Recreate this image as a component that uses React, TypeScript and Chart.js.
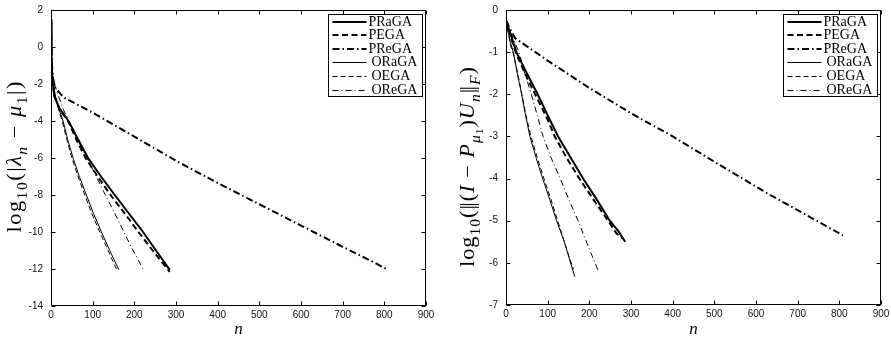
import React, { useEffect, useRef } from 'react';
import { Chart, registerables } from 'chart.js';
Chart.register(...registerables);

// ---------- series names ----------
const seriesNames = ['PRaGA', 'PEGA', 'PReGA', 'ORaGA', 'OEGA', 'OReGA'];

// ---------- left panel: log10(|lambda_n - mu_1|) ----------
const L_PRaGA_n = [0, 1, 3, 8, 20, 42, 65, 89, 120, 153, 187, 221, 252, 285];
const L_PRaGA_v = [1.5, -0.7, -1.6, -2.65, -3.3, -4.0, -5.0, -6.0, -7.0, -8.0, -9.0, -10.0, -11.0, -12.05];
const L_PEGA_n = [0, 1, 3, 8, 20, 41, 61, 83, 112, 143, 177, 210, 244, 276, 285];
const L_PEGA_v = [1.5, -0.7, -1.6, -2.65, -3.35, -4.0, -5.0, -6.0, -7.0, -8.0, -9.0, -10.0, -11.0, -11.9, -12.15];
const L_PReGA_n = [0, 2, 5, 10, 30, 100, 200, 300, 400, 500, 600, 700, 780, 805];
const L_PReGA_v = [1.5, -0.9, -1.7, -2.2, -2.72, -3.55, -4.85, -6.15, -7.35, -8.5, -9.65, -10.8, -11.7, -12.0];
const L_ORaGA_n = [0, 1, 2, 5, 10, 20, 29, 40, 53, 68, 85, 102, 121, 141, 163];
const L_ORaGA_v = [1.5, -0.6, -1.2, -1.9, -2.6, -3.4, -4.0, -5.0, -6.0, -7.0, -8.0, -9.0, -10.0, -11.0, -12.05];
const L_OEGA_n = [0, 1, 2, 5, 10, 20, 27, 38, 50, 65, 81, 98, 117, 137, 158];
const L_OEGA_v = [1.5, -0.6, -1.2, -1.9, -2.7, -3.5, -4.0, -5.0, -6.0, -7.0, -8.0, -9.0, -10.0, -11.0, -12.05];
const L_OReGA_n = [0, 2, 5, 14, 30, 49, 75, 100, 126, 160, 190, 221];
const L_OReGA_v = [1.5, -0.9, -1.8, -2.4, -3.4, -4.3, -5.5, -6.6, -7.8, -9.3, -10.7, -12.0];

// ---------- right panel: log10(||(I - P_mu1) U_n||_F) ----------
const R_PRaGA_n = [0, 10, 25, 50, 76, 100, 125, 155, 185, 218, 249, 270, 286];
const R_PRaGA_v = [-0.25, -0.55, -1.0, -1.5, -2.0, -2.5, -3.0, -3.5, -4.0, -4.5, -5.0, -5.25, -5.5];
const R_PEGA_n = [0, 10, 25, 50, 75, 100, 117, 145, 176, 210, 245, 265, 280];
const R_PEGA_v = [-0.25, -0.6, -1.05, -1.6, -2.1, -2.6, -3.0, -3.5, -4.0, -4.5, -5.0, -5.3, -5.42];
const R_PReGA_n = [0, 10, 22, 100, 200, 300, 400, 500, 634, 700, 809];
const R_PReGA_v = [-0.25, -0.45, -0.67, -1.2, -1.85, -2.45, -3.0, -3.6, -4.39, -4.75, -5.35];
const R_ORaGA_n = [0, 5, 10, 17.5, 27, 37.5, 47, 57.5, 72, 88, 105, 121.5, 140, 155, 165];
const R_ORaGA_v = [-0.25, -0.5, -0.75, -1.0, -1.5, -2.0, -2.5, -3.0, -3.5, -4.0, -4.5, -5.0, -5.5, -6.0, -6.33];
const R_OEGA_n = [0, 5, 10, 18, 28, 38, 48, 60, 75, 91, 108, 124, 140, 153, 162];
const R_OEGA_v = [-0.25, -0.5, -0.8, -1.05, -1.5, -2.0, -2.5, -3.0, -3.5, -4.0, -4.5, -5.0, -5.5, -5.9, -6.15];
const R_OReGA_n = [0, 10, 20, 31, 45, 61, 75, 89, 108, 130, 151, 173, 197, 221];
const R_OReGA_v = [-0.25, -0.5, -0.75, -1.0, -1.5, -2.0, -2.5, -3.0, -3.5, -4.0, -4.5, -5.0, -5.6, -6.18];

// ---------- axis ranges ----------
const xTicks = { min: 0, max: 900, step: 100 };
const leftYTicks = { min: -14, max: 2, step: 2 };
const rightYTicks = { min: -7, max: 0, step: 1 };

// ---------- styles (not data) ----------
const lineStyles = [
  { w: 2, dash: [] as number[] },
  { w: 2, dash: [6, 3.5] },
  { w: 2, dash: [7, 3, 1.5, 3] },
  { w: 1, dash: [] as number[] },
  { w: 1, dash: [5, 3] },
  { w: 1, dash: [6, 3, 1, 3] },
];

// t: text, s: size factor, it: italic, dy: baseline shift (em), tight: no extra spacing, adv: fixed extra advance
type Seg = { t: string; s?: number; it?: boolean; dy?: number; tight?: boolean; adv?: number };

const leftTitle: Seg[] = [
  { t: 'log' },
  { t: '10', s: 0.7, dy: 0.3 },
  { t: '(|' },
  { t: 'λ', it: true },
  { t: 'n', it: true, s: 0.7, dy: 0.3 },
  { t: ' − ' },
  { t: 'μ', it: true },
  { t: '1', s: 0.7, dy: 0.3 },
  { t: '|)' },
];
const rightTitle: Seg[] = [
  { t: 'log' },
  { t: '10', s: 0.7, dy: 0.3 },
  { t: '(' },
  { t: '|', tight: true, adv: -1.5 },
  { t: '|' },
  { t: '(' },
  { t: 'I', it: true },
  { t: ' − ' },
  { t: 'P', it: true },
  { t: 'μ', it: true, s: 0.7, dy: 0.3 },
  { t: '1', s: 0.5, dy: 0.45 },
  { t: ')' },
  { t: 'U', it: true },
  { t: 'n', it: true, s: 0.7, dy: 0.3 },
  { t: '|', tight: true, adv: -1.5 },
  { t: '|' },
  { t: 'F', it: true, s: 0.7, dy: 0.3 },
  { t: ')' },
];

const SERIF = '"Liberation Serif", "DejaVu Serif", serif';
const SANS = '"Liberation Sans", Arial, sans-serif';

function toPoints(n: number[], v: number[]) {
  return n.map((x, i) => ({ x, y: v[i] }));
}

function drawRich(ctx: CanvasRenderingContext2D, segs: Seg[], size: number, targetLen: number) {
  const chars: { c: string; font: string; dy: number; w: number; tight: boolean; adv: number }[] = [];
  for (const s of segs) {
    const font = `${s.it ? 'italic ' : ''}${size * (s.s || 1)}px ${SERIF}`;
    ctx.font = font;
    for (const c of Array.from(s.t)) {
      chars.push({
        c,
        font,
        dy: (s.dy || 0) * size,
        w: ctx.measureText(c).width,
        tight: !!s.tight,
        adv: s.adv || 0,
      });
    }
  }
  const natural = chars.reduce((a, b) => a + b.w + b.adv, 0);
  const k = Math.min(1.12, Math.max(1, targetLen / natural));
  const slots = chars.slice(0, -1).filter((c) => !c.tight).length;
  const extra = Math.max(0, (targetLen / k - natural) / slots);
  const total = natural + extra * slots;
  ctx.scale(k, 1);
  let x = -total / 2;
  ctx.textBaseline = 'alphabetic';
  ctx.textAlign = 'left';
  for (const ch of chars) {
    ctx.font = ch.font;
    ctx.fillText(ch.c, x, ch.dy);
    x += ch.w + ch.adv + (ch.tight ? 0 : extra);
  }
}

type PanelCfg = {
  series: { n: number[]; v: number[] }[];
  yr: { min: number; max: number; step: number };
  pad: { left: number; top: number; right: number; bottom: number };
  title: Seg[];
  titleX: number;
  titleLen: number;
  titleCy: number;
};

function Panel({ cfg, left, width }: { cfg: PanelCfg; left: number; width: number }) {
  const ref = useRef<HTMLCanvasElement>(null);
  useEffect(() => {
    const frame = {
      id: 'frame',
      afterDraw(chart: any) {
        const { ctx, chartArea: a, scales } = chart;
        const xs = scales.x;
        const ys = scales.y;
        ctx.save();
        ctx.strokeStyle = '#000';
        ctx.lineWidth = 1;
        ctx.setLineDash([]);
        const L = Math.round(a.left) + 0.5;
        const R = Math.round(a.right) - 0.5;
        const T = Math.round(a.top) + 0.5;
        const B = Math.round(a.bottom) - 0.5;
        ctx.strokeRect(L, T, R - L, B - T);
        ctx.beginPath();
        for (const t of xs.ticks) {
          const px = Math.round(xs.getPixelForValue(t.value)) + 0.5;
          ctx.moveTo(px, B);
          ctx.lineTo(px, B - 4);
          ctx.moveTo(px, T);
          ctx.lineTo(px, T + 4);
        }
        for (const t of ys.ticks) {
          const py = Math.round(ys.getPixelForValue(t.value)) + 0.5;
          ctx.moveTo(L, py);
          ctx.lineTo(L + 4, py);
          ctx.moveTo(R, py);
          ctx.lineTo(R - 4, py);
        }
        ctx.stroke();

        // tick labels
        ctx.fillStyle = '#111';
        ctx.font = `10px ${SANS}`;
        ctx.textAlign = 'center';
        ctx.textBaseline = 'middle';
        for (const t of xs.ticks) {
          ctx.fillText(String(t.value), xs.getPixelForValue(t.value), a.bottom + 9.5);
        }
        ctx.textAlign = 'right';
        for (const t of ys.ticks) {
          ctx.fillText(String(t.value), a.left - 8, ys.getPixelForValue(t.value));
        }

        // legend
        const bw = 94;
        const bh = 82;
        const bx = Math.round(a.right - 4 - bw) + 0.5;
        const by = Math.round(a.top + 4) + 0.5;
        ctx.fillStyle = '#fff';
        ctx.fillRect(bx, by, bw, bh);
        ctx.strokeRect(bx, by, bw, bh);
        ctx.font = `14px ${SERIF}`;
        ctx.textBaseline = 'middle';
        ctx.textAlign = 'left';
        ctx.fillStyle = '#000';
        seriesNames.forEach((name, i) => {
          const yy = by + 7 + 13.6 * i;
          const st = lineStyles[i];
          ctx.save();
          ctx.lineWidth = st.w;
          ctx.setLineDash(st.dash);
          ctx.beginPath();
          ctx.moveTo(bx + 4, Math.round(yy) + (st.w === 1 ? 0.5 : 0));
          ctx.lineTo(bx + 38, Math.round(yy) + (st.w === 1 ? 0.5 : 0));
          ctx.stroke();
          ctx.restore();
          ctx.fillText(name, bx + (i < 3 ? 40 : 43), yy + 0.5);
        });

        // x title
        ctx.font = `italic 17px ${SERIF}`;
        ctx.textAlign = 'center';
        ctx.textBaseline = 'alphabetic';
        ctx.fillText('n', (a.left + a.right) / 2, 334);

        // y title
        ctx.save();
        ctx.translate(cfg.titleX, cfg.titleCy);
        ctx.rotate(-Math.PI / 2);
        drawRich(ctx, cfg.title, 20, cfg.titleLen);
        ctx.restore();

        ctx.restore();
      },
    };

    const chart = new Chart(ref.current as HTMLCanvasElement, {
      type: 'line',
      data: {
        datasets: cfg.series.map((s, i) => ({
          label: seriesNames[i],
          data: toPoints(s.n, s.v),
          borderColor: '#000',
          backgroundColor: '#000',
          borderWidth: lineStyles[i].w,
          borderDash: lineStyles[i].dash,
          pointRadius: 0,
          fill: false,
          tension: 0,
        })),
      },
      options: {
        responsive: false,
        animation: false,
        devicePixelRatio: 1,
        layout: { padding: cfg.pad },
        plugins: { legend: { display: false }, tooltip: { enabled: false } },
        scales: {
          x: {
            type: 'linear',
            min: xTicks.min,
            max: xTicks.max,
            grid: { display: false },
            border: { display: false },
            ticks: { display: false, stepSize: xTicks.step },
            afterFit: (s: any) => {
              s.height = 0;
            },
          },
          y: {
            type: 'linear',
            min: cfg.yr.min,
            max: cfg.yr.max,
            grid: { display: false },
            border: { display: false },
            ticks: { display: false, stepSize: cfg.yr.step },
            afterFit: (s: any) => {
              s.width = 0;
            },
          },
        },
      } as any,
      plugins: [frame],
    });
    return () => chart.destroy();
  }, []);
  return (
    <canvas
      ref={ref}
      width={width}
      height={340}
      style={{ position: 'absolute', left, top: 0, width, height: 340 }}
    />
  );
}

const leftCfg: PanelCfg = {
  series: [
    { n: L_PRaGA_n, v: L_PRaGA_v },
    { n: L_PEGA_n, v: L_PEGA_v },
    { n: L_PReGA_n, v: L_PReGA_v },
    { n: L_ORaGA_n, v: L_ORaGA_v },
    { n: L_OEGA_n, v: L_OEGA_v },
    { n: L_OReGA_n, v: L_OReGA_v },
  ],
  yr: leftYTicks,
  pad: { left: 51, top: 10, right: 19, bottom: 34 },
  title: leftTitle,
  titleX: 21,
  titleLen: 151,
  titleCy: 157,
};

const rightCfg: PanelCfg = {
  series: [
    { n: R_PRaGA_n, v: R_PRaGA_v },
    { n: R_PEGA_n, v: R_PEGA_v },
    { n: R_PReGA_n, v: R_PReGA_v },
    { n: R_ORaGA_n, v: R_ORaGA_v },
    { n: R_OEGA_n, v: R_OEGA_v },
    { n: R_OReGA_n, v: R_OReGA_v },
  ],
  yr: rightYTicks,
  pad: { left: 61, top: 10, right: 10, bottom: 35 },
  title: rightTitle,
  titleX: 29,
  titleLen: 200,
  titleCy: 167,
};

export default function App() {
  return (
    <div
      style={{
        position: 'fixed',
        left: 0,
        top: 0,
        width: 891,
        height: 340,
        background: '#fff',
        overflow: 'hidden',
      }}
    >
      <Panel cfg={leftCfg} left={0} width={445} />
      <Panel cfg={rightCfg} left={445} width={446} />
    </div>
  );
}
